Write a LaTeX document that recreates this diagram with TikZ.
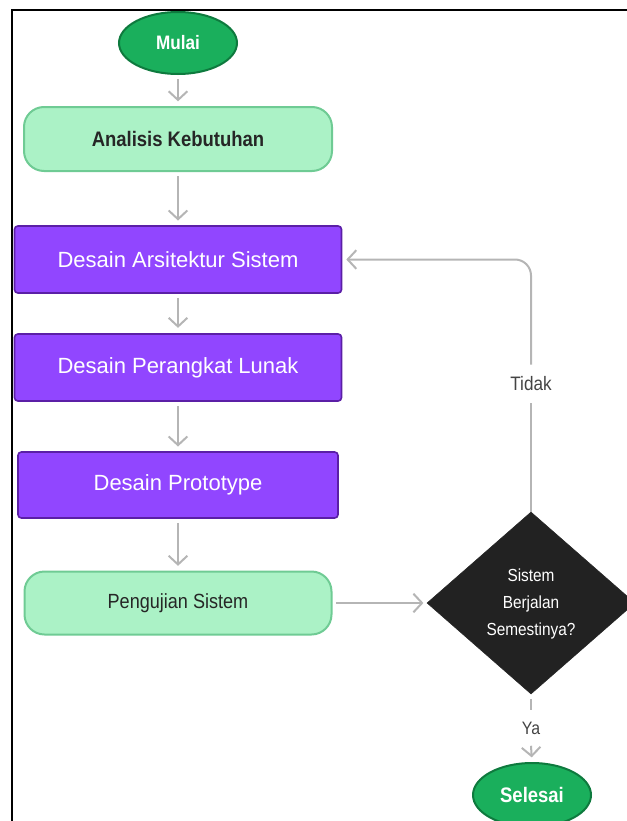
\documentclass[tikz,border=0pt]{standalone}
\usepackage{fontspec}
\setmainfont{Liberation Sans}
\newfontfamily\narrowfont[FakeStretch=0.88]{Liberation Sans}
\usetikzlibrary{shapes.geometric,arrows.meta}

\definecolor{darkgreen}{HTML}{1AAF5C}
\definecolor{darkgreenline}{HTML}{0E7A3E}
\definecolor{lightgreen}{HTML}{ABF2C6}
\definecolor{lightgreenline}{HTML}{6FCB94}
\definecolor{violet}{HTML}{9146FF}
\definecolor{violetline}{HTML}{5B1FA6}
\definecolor{decision}{HTML}{222222}
\definecolor{connector}{HTML}{B5B5B5}
\definecolor{labeltext}{HTML}{444444}

\tikzset{
  terminal/.style={ellipse, fill=darkgreen, draw=darkgreenline, line width=1.5pt,
    inner sep=0pt, text=white},
  softbox/.style={rectangle, rounded corners=15pt, fill=lightgreen, draw=lightgreenline,
    line width=1.5pt, inner sep=0pt, text=black!85},
  stagebox/.style={rectangle, rounded corners=2.5pt, fill=violet, draw=violetline,
    line width=1.2pt, inner sep=0pt, text=white, font=\fontsize{16.5}{20}\selectfont},
  decisionbox/.style={diamond, fill=decision, draw=decision, inner sep=0pt},
  flowlabel/.style={inner sep=0pt, text=labeltext},
  flow/.style={draw=connector, line width=1.5pt,
    -{Straight Barb[length=6.5pt,width=14pt]}},
  plainflow/.style={draw=connector, line width=1.5pt},
}

\begin{document}
\begin{tikzpicture}[x=0.75pt,y=-0.75pt]
  \useasboundingbox (0,0) rectangle (627,821);

  % frame
  \draw[line width=1.5pt, black] (12,825) -- (12,10) -- (630,10);

  % main column
  \node[terminal, minimum width=88.5pt, minimum height=46.5pt,
        font=\narrowfont\bfseries\fontsize{14.6}{17}\selectfont] (mulai) at (178,43) {Mulai};
  \node[softbox, minimum width=231pt, minimum height=48pt,
        font=\narrowfont\bfseries\fontsize{15.75}{18}\selectfont] (analisis) at (178,139) {Analisis Kebutuhan};
  \node[stagebox, minimum width=245.25pt, minimum height=50.25pt] (arsitektur) at (178,259.5) {Desain Arsitektur Sistem};
  \node[stagebox, minimum width=245.25pt, minimum height=50.25pt] (perangkat) at (178,367.5) {Desain Perangkat Lunak};
  \node[stagebox, minimum width=240pt, minimum height=49.5pt] (prototype) at (178,485) {Desain Prototype};
  \node[softbox, minimum width=230.25pt, minimum height=47.25pt,
        font=\narrowfont\fontsize{15.4}{18}\selectfont] (pengujian) at (178,603) {Pengujian Sistem};

  % decision
  \node[decisionbox, minimum width=156pt, minimum height=136.5pt] (cek) at (531,603) {};
  \node[text=white, align=center, inner sep=0pt,
        font=\narrowfont\fontsize{13.1}{20.25}\selectfont] (cektext) at (531,604) {Sistem\\Berjalan\\Semestinya?};

  \node[terminal, minimum width=88.5pt, minimum height=48pt,
        font=\narrowfont\bfseries\fontsize{15.75}{18}\selectfont] (selesai) at (532,795) {Selesai};

  % branch labels
  \node[flowlabel, minimum height=28.5pt,
        font=\narrowfont\fontsize{14.6}{17}\selectfont] (tidak) at (531,384) {Tidak};
  \node[flowlabel, minimum height=26.25pt,
        font=\narrowfont\fontsize{13.5}{16}\selectfont] (ya) at (531,728) {Ya};

  % connectors
  \path[flow, shorten <=3pt, shorten >=3.5pt] (mulai) -- (analisis);
  \path[flow, shorten <=3pt, shorten >=3.5pt] (analisis) -- (arsitektur);
  \path[flow, shorten <=3pt, shorten >=4pt] (arsitektur) -- (perangkat);
  \path[flow, shorten <=3pt, shorten >=3.5pt] (perangkat) -- (prototype);
  \path[flow, shorten <=3pt, shorten >=3.5pt] (prototype) -- (pengujian);
  \path[flow, shorten <=2.5pt, shorten >=2.5pt] (pengujian) -- (cek);

  \path[plainflow] (cek.north) -- (tidak.south);
  \path[flow, rounded corners=12pt, shorten >=3pt] (tidak.north) |- (arsitektur.east);

  \path[plainflow, shorten <=3.5pt] (cek.south) -- (ya.north);
  \path[flow, shorten >=3.5pt] (ya.south) -- (selesai.north);
\end{tikzpicture}
\end{document}
